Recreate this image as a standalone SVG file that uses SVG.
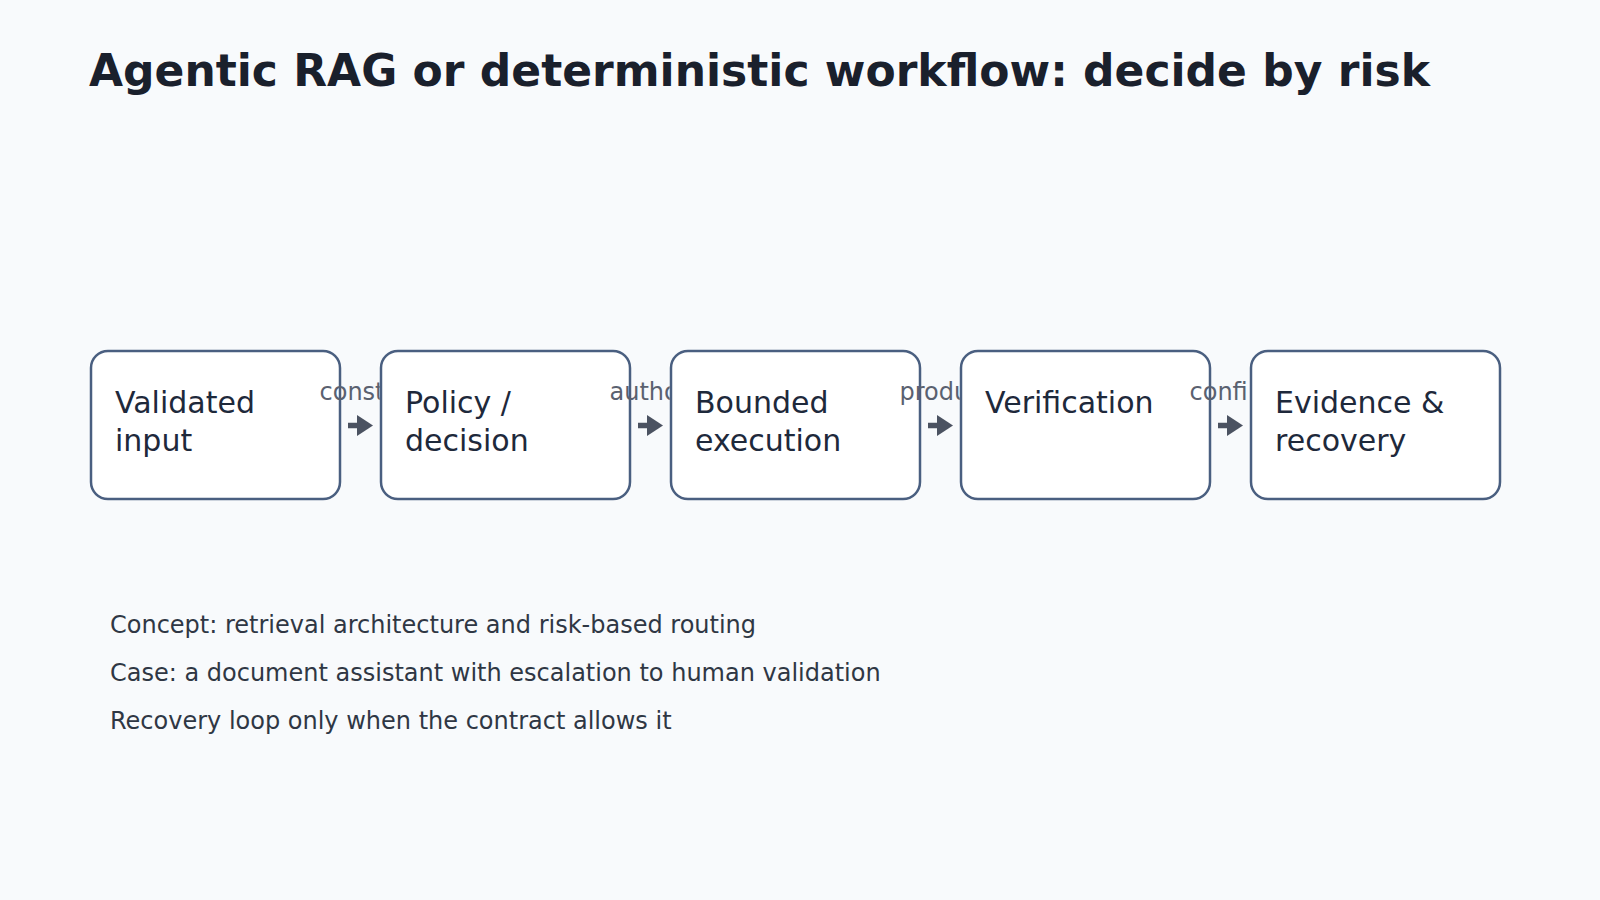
<svg xmlns="http://www.w3.org/2000/svg" width="1600" height="900" viewBox="0 0 1600 900">
  <defs>
    <marker id="ah" markerUnits="userSpaceOnUse" markerWidth="16" markerHeight="21" refX="0" refY="10.5" orient="auto">
      <path d="M0,0 L16,10.5 L0,21 Z" fill="#4b5261"/>
    </marker>
    <clipPath id="c1"><rect x="290" y="360" width="89.75" height="60"/></clipPath>
    <clipPath id="c2"><rect x="580" y="360" width="89.75" height="60"/></clipPath>
    <clipPath id="c3"><rect x="870" y="360" width="89.75" height="60"/></clipPath>
    <clipPath id="c4"><rect x="1160" y="360" width="89.75" height="60"/></clipPath>
    <style>
      .title { font-family: "DejaVu Sans", Verdana, sans-serif; font-size: 44px; font-weight: bold; fill: #1a202c; }
      .box { fill: #ffffff; stroke: #4a5f80; stroke-width: 2.5; }
      .ntext { font-family: "DejaVu Sans", Verdana, sans-serif; font-size: 30px; fill: #1e293b; }
      .elabel { font-family: "DejaVu Sans", Verdana, sans-serif; font-size: 24px; fill: #5a6170; }
      .edge { stroke: #4b5261; stroke-width: 5.5; fill: none; }
      .note { font-family: "DejaVu Sans", Verdana, sans-serif; font-size: 24px; fill: #2f3744; }
    </style>
  </defs>
  <rect x="0" y="0" width="1600" height="900" fill="#f8fafc"/>
  <text class="title" x="89" y="86">Agentic RAG or deterministic workflow: decide by risk</text>

  <g id="node-validated-input">
    <rect class="box" x="91" y="351" width="249" height="148" rx="17"/>
    <text class="ntext" x="115" y="413">Validated</text>
    <text class="ntext" x="115" y="451">input</text>
  </g>
  <g id="node-policy-decision">
    <rect class="box" x="381" y="351" width="249" height="148" rx="17"/>
    <text class="ntext" x="405" y="413">Policy /</text>
    <text class="ntext" x="405" y="451">decision</text>
  </g>
  <g id="node-bounded-execution">
    <rect class="box" x="671" y="351" width="249" height="148" rx="17"/>
    <text class="ntext" x="695" y="413">Bounded</text>
    <text class="ntext" x="695" y="451">execution</text>
  </g>
  <g id="node-verification">
    <rect class="box" x="961" y="351" width="249" height="148" rx="17"/>
    <text class="ntext" x="985" y="413">Verification</text>
  </g>
  <g id="node-evidence-recovery">
    <rect class="box" x="1251" y="351" width="249" height="148" rx="17"/>
    <text class="ntext" x="1275" y="413">Evidence &amp;</text>
    <text class="ntext" x="1275" y="451">recovery</text>
  </g>

  <g id="connectors">
    <text class="elabel" x="319.5" y="400" clip-path="url(#c1)">const</text>
    <line class="edge" x1="348" y1="425.5" x2="357" y2="425.5" marker-end="url(#ah)"/>
    <text class="elabel" x="609.5" y="400" clip-path="url(#c2)">autho</text>
    <line class="edge" x1="638" y1="425.5" x2="647" y2="425.5" marker-end="url(#ah)"/>
    <text class="elabel" x="899.5" y="400" clip-path="url(#c3)">produ</text>
    <line class="edge" x1="928" y1="425.5" x2="937" y2="425.5" marker-end="url(#ah)"/>
    <text class="elabel" x="1189.5" y="400" clip-path="url(#c4)">confi</text>
    <line class="edge" x1="1218" y1="425.5" x2="1227" y2="425.5" marker-end="url(#ah)"/>
  </g>

  <text class="note" x="110" y="633">Concept: retrieval architecture and risk-based routing</text>
  <text class="note" x="110" y="681">Case: a document assistant with escalation to human validation</text>
  <text class="note" x="110" y="729">Recovery loop only when the contract allows it</text>
</svg>
